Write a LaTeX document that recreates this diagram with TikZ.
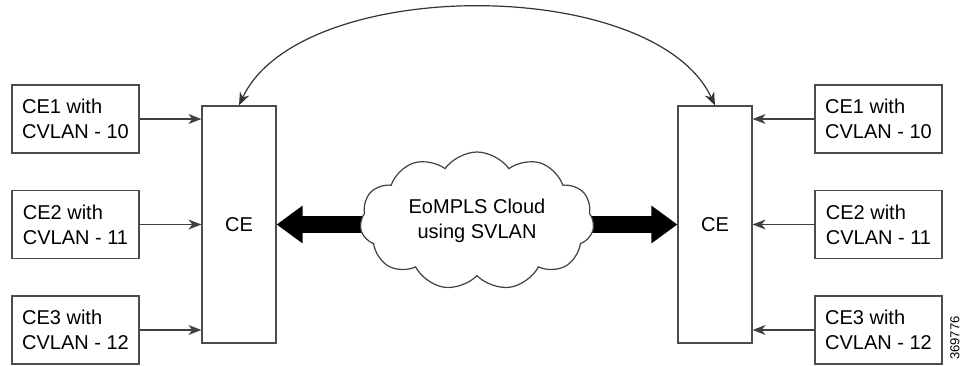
\documentclass[tikz,border=0pt]{standalone}
\usepackage{fontspec}
\setmainfont{Liberation Sans}
\usetikzlibrary{arrows.meta,shapes.symbols}
\pgfdeclarelayer{background}
\pgfsetlayers{background,main}
\begin{document}
\begin{tikzpicture}[x=0.5pt,y=-0.5pt,
  cebox/.style={draw=black!70, line width=0.6pt, fill=white, minimum width=63.5pt, minimum height=34pt,
    align=left, font=\fontsize{10}{12.5}\selectfont, inner sep=0pt},
  router/.style={draw=black!70, line width=0.6pt, fill=white, minimum width=37pt, minimum height=118.5pt,
    font=\fontsize{10}{12.5}\selectfont, inner sep=0pt},
  thinarrow/.style={draw=black!75, line width=0.6pt, -{Stealth[length=6.5pt,width=5pt,inset=2pt]}},
  bigarrow/.style={line width=8.5pt, -{Triangle[length=13pt,width=18pt]}},
  cloudnode/.style={cloud, cloud puffs=11, cloud puff arc=110, aspect=1.7, draw=black!75, line width=0.6pt,
    fill=white, minimum width=117pt, minimum height=69pt, inner sep=0pt, align=center,
    font=\fontsize{10}{12.5}\selectfont}
]
\useasboundingbox (0,0) rectangle (969,366);

% left side
\node[cebox] (l1) at (75.5,119) {CE1 with\\CVLAN - 10};
\node[cebox] (l2) at (75.5,224.5) {CE2 with\\CVLAN - 11};
\node[cebox] (l3) at (75.5,330) {CE3 with\\CVLAN - 12};
\node[router] (ceL) at (239,224.5) {CE};

% right side
\node[cebox] (r1) at (878.5,119) {CE1 with\\CVLAN - 10};
\node[cebox] (r2) at (878.5,224.5) {CE2 with\\CVLAN - 11};
\node[cebox] (r3) at (878.5,330) {CE3 with\\CVLAN - 12};
\node[router] (ceR) at (715,224.5) {CE};

% cloud
\node[cloudnode] (cloud) at (477,221) {EoMPLS Cloud\\using SVLAN};

\begin{pgfonlayer}{background}
  \draw[bigarrow] (cloud.center |- 0,224.5) -- (ceL.east);
  \draw[bigarrow] (cloud.center |- 0,224.5) -- (ceR.west);
\end{pgfonlayer}

% thin arrows
\draw[thinarrow] (l1.east) -- (l1.east -| ceL.west);
\draw[thinarrow] (l2.east) -- (l2.east -| ceL.west);
\draw[thinarrow] (l3.east) -- (l3.east -| ceL.west);
\draw[thinarrow] (r1.west) -- (r1.west -| ceR.east);
\draw[thinarrow] (r2.west) -- (r2.west -| ceR.east);
\draw[thinarrow] (r3.west) -- (r3.west -| ceR.east);

% curved arrow
\draw[draw=black!80, line width=0.6pt, {Stealth[length=6.5pt,width=5pt,inset=2pt]}-{Stealth[length=6.5pt,width=5pt,inset=2pt]}]
  (ceL.north) .. controls (300,-25) and (654,-25) .. (ceR.north);

% figure number
\node[rotate=90, font=\fontsize{6.5}{7}\selectfont, inner sep=0pt] (fig) at (955,338) {369776};
\end{tikzpicture}
\end{document}
